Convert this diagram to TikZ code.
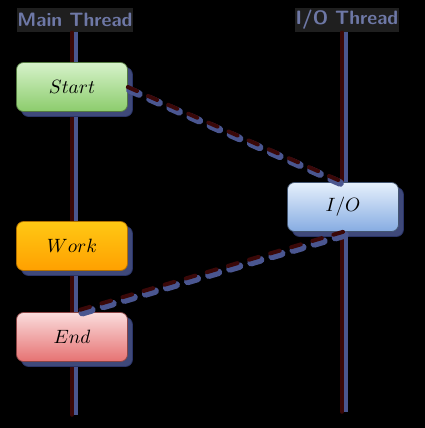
\documentclass[tikz,border=0pt]{standalone}
\usepackage{amsmath}
\usepackage{tikz}
\usetikzlibrary{shadows, positioning}
\definecolor{shadowblue}{HTML}{4A5690}
\definecolor{threadred}{HTML}{3A0808}
\definecolor{headtext}{HTML}{2A3468}
\definecolor{starttop}{HTML}{D6F2CA}
\definecolor{startbot}{HTML}{8CCC6C}
\definecolor{worktop}{HTML}{FFC814}
\definecolor{workbot}{HTML}{FFA000}
\definecolor{endtop}{HTML}{FADCDC}
\definecolor{endbot}{HTML}{E67272}
\definecolor{iotop}{HTML}{E6F0FC}
\definecolor{iobot}{HTML}{86ACE2}
\tikzstyle{head} = [rectangle, minimum width=2.32cm, minimum height=0.48cm, inner sep=0pt, fill=black!88, text=shadowblue!80!white, font=\fontsize{11}{13}\selectfont\sffamily\bfseries]
\tikzstyle{task} = [rectangle, rounded corners=4pt, minimum width=2.22cm, minimum height=0.98cm, text centered, font=\fontsize{11}{13}\selectfont, drop shadow={shadow xshift=0.1cm, shadow yshift=-0.1cm, fill=shadowblue!85!black, draw=headtext, opacity=1}]
\tikzstyle{thread} = [line width=0.07cm, draw=threadred, line cap=round, preaction={draw=shadowblue, line width=0.09cm, transform canvas={shift={(0.07,0)}}}]
\tikzstyle{flow} = [line width=0.08cm, draw=threadred, dash pattern=on 0.2cm off 0.24cm, line cap=round, preaction={draw=shadowblue, line width=0.15cm, dash pattern=on 0.2cm off 0.24cm, line cap=round, transform canvas={shift={(0.04,-0.06)}}}]

\begin{document}
\begin{tikzpicture}[node distance=3.18cm]
	\fill [black] (0,0) rectangle (8.5,-8.56);
	\node (mainhd) [head] at (1.5,-0.4) {Main Thread};
	\node (iohd) [head, minimum width=2.08cm] at (6.94,-0.4) {I/O Thread};
	\coordinate (mainbot) at (1.44,-8.3);
	\coordinate (iobot) at (6.84,-8.24);
	\draw [thread] (mainhd.south -| mainbot) -- (mainbot);
	\draw [thread] (iohd.south -| iobot) -- (iobot);
	\node (start) [task, top color=starttop, bottom color=startbot, draw=startbot!60!black] at (1.44,-1.74) {$Start$};
	\node (work) [task, below of=start, top color=worktop, bottom color=workbot, draw=workbot!70!black] {$Work$};
	\node (end) [task, below of=work, node distance=1.82cm, top color=endtop, bottom color=endbot, draw=endbot!60!black] {$End$};
	\node (io) [task, top color=iotop, bottom color=iobot, draw=iobot!50!black] at (6.86,-4.14) {$I/O$};
	\draw [flow] (start.east) -- (io.north);
	\draw [flow] (io.south) -- (end.north);
\end{tikzpicture}
\end{document}
